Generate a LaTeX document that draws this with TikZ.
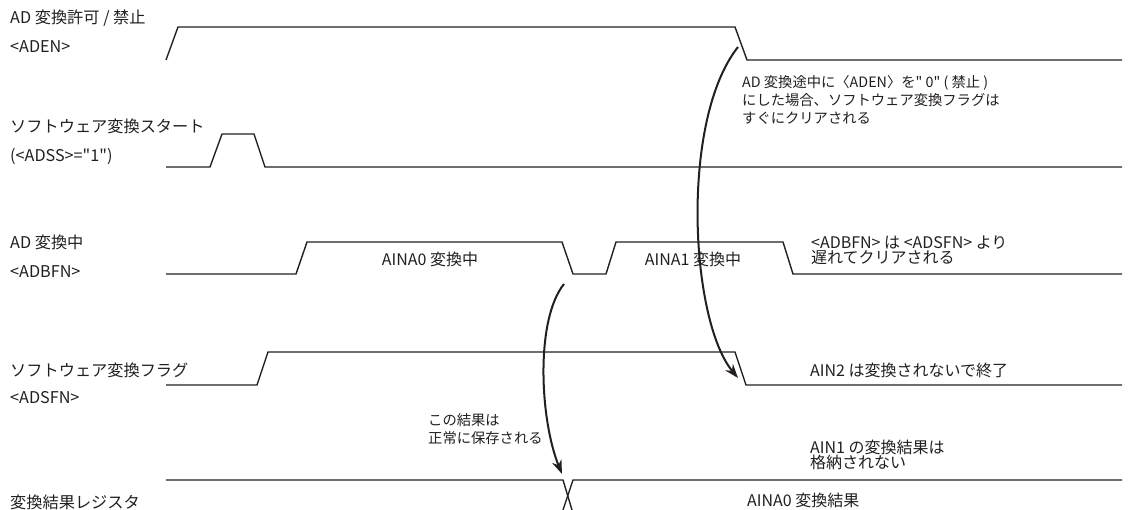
\documentclass[tikz,border=0pt]{standalone}
\usepackage{fontspec}
\setmainfont{Noto Sans CJK JP}[Ligatures=TeXOff]
\usepackage{tikz}
\usetikzlibrary{arrows.meta}
\definecolor{waveInk}{HTML}{231F20}

\begin{document}
\begin{tikzpicture}[x=1pt, y=-1pt,
    sig/.style={draw=waveInk, line width=1.4pt},
    lbl/.style={anchor=west, inner sep=0pt, text=waveInk,
                font=\fontsize{16.2}{18}\selectfont},
    note/.style={anchor=west, inner sep=0pt, align=left, text=waveInk,
                 font=\fontsize{16}{14.5}\selectfont},
    smallnote/.style={anchor=west, inner sep=0pt, align=left, text=waveInk,
                      font=\fontsize{14.3}{18}\selectfont},
    arrow/.style={->, >={Stealth[length=14pt,width=10pt]}, line width=2pt,
                  draw=waveInk}
  ]
  \useasboundingbox (0,0) rectangle (1133,510);

  \node[lbl] (aden1) at (10,18) {AD 変換許可 / 禁止};
  \node[lbl] (aden2) at (10,47) {<ADEN>};
  \node[lbl] (adss1) at (10,126) {ソフトウェア変換スタート};
  \node[lbl] (adss2) at (10,156) {(<ADSS>="1")};
  \node[lbl] (adbfn1) at (10,242) {AD 変換中};
  \node[lbl] (adbfn2) at (10,272) {<ADBFN>};
  \node[lbl] (adsfn1) at (10,370) {ソフトウェア変換フラグ};
  \node[lbl] (adsfn2) at (10,398) {<ADSFN>};
  \node[lbl] (adreg) at (10,502) {変換結果レジスタ};

  \draw[sig] (166,60) -- (178,27) -- (735,27) -- (747,60) -- (1122,60);
  \draw[sig] (166,167) -- (210,167) -- (222,134) -- (254,134) -- (265,167)
    -- (1122,167);
  \draw[sig] (166,274) -- (296,274) -- (307,242) -- (562,242) -- (573,274)
    -- (606,274) -- (616,242) -- (783,242) -- (793,274) -- (1122,274);
  \draw[sig] (166,385) -- (257,385) -- (268,352) -- (735,352) -- (746,385)
    -- (1122,385);
  \draw[sig] (166,480) -- (563,480) -- (572,510);
  \draw[sig] (563,510) -- (573,480) -- (1122,480);

  \node[note, anchor=center] (conv0) at (430,259) {AINA0 変換中};
  \node[note, anchor=center] (conv1) at (693,259) {AINA1 変換中};
  \node[note] (lateclr) at (811,250) {<ADBFN> は <ADSFN> より\\遅れてクリアされる};
  \node[note] (ain2) at (810,370) {AIN2 は変換されないで終了};
  \node[note] (ain1) at (810,455) {AIN1 の変換結果は\\格納されない};
  \node[note] (result) at (747,500) {AINA0 変換結果};
  \node[smallnote] (clrnote) at (742,100)
    {AD 変換途中に〈ADEN〉を" 0" ( 禁止 )\\にした場合、ソフトウェア変換フラグは\\すぐにクリアされる};
  \node[smallnote] (savenote) at (428,429) {この結果は\\正常に保存される};

  \coordinate (adenfall) at (738,47);
  \coordinate (adsfnfall) at (738,378);
  \coordinate (adbfnfall) at (564,284);
  \coordinate (regcross) at (562,474);
  \draw[arrow] (adenfall) .. controls (680,120) and (690,320) .. (adsfnfall);
  \draw[arrow] (adbfnfall) .. controls (535,320) and (540,420) .. (regcross);
\end{tikzpicture}
\end{document}
